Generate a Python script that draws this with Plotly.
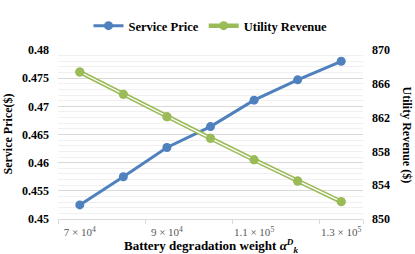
import plotly.graph_objects as go

weights = [70000, 80000, 90000, 100000, 110000, 120000, 130000]
service_price = [0.4525, 0.4575, 0.4627, 0.4664, 0.4711, 0.4747, 0.4780]
utility_revenue = [867.4, 864.75, 862.1, 859.55, 857.0, 854.5, 852.05]

x_tickvals = [70000, 90000, 110000, 130000]
x_ticktext = ["7 × 10<sup>4</sup>", "9 × 10<sup>4</sup>", "1.1 × 10<sup>5</sup>", "1.3 × 10<sup>5</sup>"]
x_boundaries = [65000, 85000, 105000, 125000, 135000]
y_tickvals = [0.45, 0.455, 0.46, 0.465, 0.47, 0.475, 0.48]
y_ticktext = ["0.45", "0.455", "0.46", "0.465", "0.47", "0.475", "0.48"]
y2_tickvals = [850, 854, 858, 862, 866, 870]

BLUE = "#4F81BD"
GREEN = "#9BBB59"
FONT = "Liberation Serif"

fig = go.Figure()
fig.add_trace(go.Scatter(
    x=weights, y=service_price, name="Service Price", mode="lines+markers",
    line=dict(color=BLUE, width=3), marker=dict(color=BLUE, size=9), yaxis="y"))
fig.add_trace(go.Scatter(
    x=weights, y=utility_revenue, name="Utility Revenue", mode="lines+markers",
    line=dict(color=GREEN, width=4.5), marker=dict(color=GREEN, size=9), yaxis="y2"))
fig.add_trace(go.Scatter(
    x=weights, y=utility_revenue, mode="lines", showlegend=False, hoverinfo="skip",
    line=dict(color="white", width=1.3), yaxis="y2"))
fig.add_trace(go.Scatter(
    x=weights, y=utility_revenue, mode="markers", showlegend=False, hoverinfo="skip",
    marker=dict(color=GREEN, size=9), yaxis="y2"))

fig.update_layout(
    width=415, height=254,
    margin=dict(l=58, r=52, t=49, b=35),
    paper_bgcolor="white", plot_bgcolor="white",
    font=dict(family=FONT, color="black", size=12),
    showlegend=True,
    legend=dict(orientation="h", x=0.5, xanchor="center", y=1.135, yanchor="middle",
                font=dict(family=FONT, size=12.5, color="black", weight="bold"),
                itemwidth=30, bgcolor="rgba(0,0,0,0)"),
    xaxis=dict(range=[65000, 135000], tickvals=x_tickvals, ticktext=x_ticktext,
               ticks="", showgrid=False, zeroline=False,
               showline=True, linecolor="#d9d9d9", linewidth=1,
               tickfont=dict(family=FONT, size=11, color="#595959"),
               ticklabelstandoff=3,
               minor=dict(tickvals=x_boundaries, ticks="outside", ticklen=4,
                          tickcolor="#d9d9d9", showgrid=False)),
    yaxis=dict(range=[0.45, 0.48], tickvals=y_tickvals, ticktext=y_ticktext,
               showgrid=True, gridcolor="#d9d9d9", gridwidth=1, zeroline=False,
               ticks="", ticklabelstandoff=8,
               tickfont=dict(family=FONT, size=12, color="black", weight="bold"),
               minor=dict(dtick=0.001, showgrid=True, gridcolor="#f0f0f0", gridwidth=1)),
    yaxis2=dict(range=[850, 870], tickvals=y2_tickvals, overlaying="y", side="right",
                showgrid=False, zeroline=False, ticks="", ticklabelstandoff=8,
                tickfont=dict(family=FONT, size=12, color="black", weight="bold")),
    annotations=[
        dict(text="Service Price($)", x=0, xref="paper", xshift=-51, y=0.5, yref="paper",
             textangle=-90, showarrow=False, xanchor="center", yanchor="middle",
             font=dict(family=FONT, size=12, color="black", weight="bold")),
        dict(text="Utility Revenue ($)", x=1, xref="paper", xshift=44, y=0.5, yref="paper",
             textangle=90, showarrow=False, xanchor="center", yanchor="middle",
             font=dict(family=FONT, size=12, color="black", weight="bold")),
        dict(text="Battery degradation weight <i>α</i><sup><i>D</i></sup><sub><i>k</i></sub>",
             x=0.5, xref="paper", y=0, yref="paper", yshift=-27, showarrow=False,
             xanchor="center", yanchor="middle",
             font=dict(family=FONT, size=13, color="black", weight="bold")),
    ],
)

fig.write_html("out.html", config={"displayModeBar": False},
               post_script="document.body.style.margin='0';")
